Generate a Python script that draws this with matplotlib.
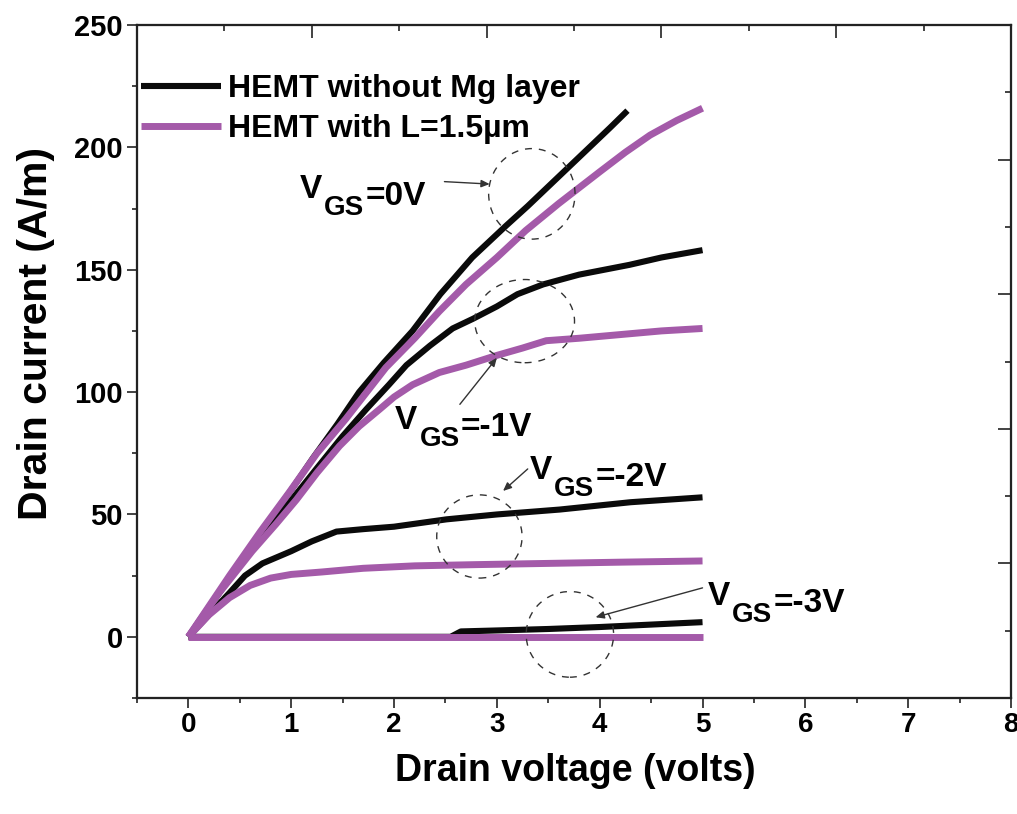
import matplotlib
matplotlib.use("Agg")
import matplotlib.pyplot as plt
from matplotlib.patches import Ellipse
from matplotlib.ticker import MultipleLocator

# ---------------- data ----------------
series_labels = ["HEMT without Mg layer", "HEMT with L=1.5\u00b5m"]

# HEMT without Mg layer (black)
v_b0 = [0, 0.3, 0.5, 0.76, 1.0, 1.21, 1.45, 1.66, 1.9, 2.18, 2.45, 2.76, 3.09, 3.3, 3.5, 3.7, 3.9, 4.1, 4.27]
i_b0 = [0, 18, 30, 46, 60, 73, 87, 100, 112, 125, 140, 155, 168, 176, 184, 192, 200, 208, 215]
v_b1 = [0, 0.45, 0.89, 1.27, 1.5, 1.73, 1.95, 2.12, 2.35, 2.57, 2.77, 3.0, 3.2, 3.45, 3.8, 4.29, 4.6, 5.0]
i_b1 = [0, 27, 50, 70, 82, 93, 103, 111, 119, 126, 130, 135, 140, 144, 148, 152, 155, 158]
v_b2 = [0, 0.4, 0.55, 0.72, 1.0, 1.2, 1.44, 1.7, 2.0, 2.51, 3.0, 3.61, 4.3, 5.0]
i_b2 = [0, 18, 25, 30, 35, 39, 43, 44, 45, 48, 50, 52, 55, 57]
v_b3 = [0, 2.55, 2.65, 3.0, 3.5, 4.0, 4.5, 5.0]
i_b3 = [0, 0, 2.2, 2.6, 3.2, 4.0, 5.0, 6.0]

# HEMT with L=1.5um (purple)
v_p0 = [0, 0.4, 0.7, 0.98, 1.25, 1.53, 1.92, 2.2, 2.44, 2.7, 3.0, 3.28, 3.6, 4.0, 4.25, 4.49, 4.75, 5.0]
i_p0 = [0, 25, 43, 59, 75, 89, 110, 122, 133, 144, 155, 166, 177, 190, 198, 205, 211, 216]
v_p1 = [0, 0.3, 0.62, 0.85, 1.05, 1.25, 1.47, 1.66, 1.86, 2.0, 2.18, 2.44, 2.7, 3.0, 3.25, 3.48, 3.8, 4.2, 4.6, 5.0]
i_p1 = [0, 18, 35, 46, 56, 67, 78, 86, 93, 98, 103, 108, 111, 115, 118, 121, 122, 123.5, 125, 126]
v_p2 = [0, 0.2, 0.4, 0.6, 0.8, 1.0, 1.3, 1.7, 2.2, 2.8, 3.5, 4.2, 5.0]
i_p2 = [0, 9, 16, 21, 24, 25.5, 26.5, 28, 29, 29.5, 30, 30.5, 31]
v_p3 = [0, 1, 2, 3, 4, 5]
i_p3 = [0, 0, 0, 0, 0, 0]

vgs_labels = ["=0V", "=-1V", "=-2V", "=-3V"]

x_ticks = [0, 1, 2, 3, 4, 5, 6, 7, 8]
y_ticks = [0, 50, 100, 150, 200, 250]

# ---------------- style ----------------
plt.rcParams["font.family"] = ["Liberation Sans", "DejaVu Sans"]
plt.rcParams["font.weight"] = "bold"

BLACK = "#0a0a0a"
PURPLE = "#A45AA9"
AX_COL = "#222222"

fig = plt.figure(figsize=(10.17, 8.14), dpi=100)
ax = fig.add_axes([137 / 1017, 1 - 698 / 814, (1011 - 137) / 1017, (698 - 25) / 814])

kw_b = dict(color=BLACK, lw=4.4, solid_capstyle="butt", solid_joinstyle="round", zorder=3)
kw_p = dict(color=PURPLE, lw=5.0, solid_capstyle="butt", solid_joinstyle="round", zorder=4)
ax.plot(v_b0, i_b0, label=series_labels[0], **kw_b)
ax.plot(v_b1, i_b1, **kw_b)
ax.plot(v_b2, i_b2, **kw_b)
ax.plot(v_b3, i_b3, **kw_b)
ax.plot(v_p0, i_p0, label=series_labels[1], **kw_p)
ax.plot(v_p1, i_p1, **kw_p)
ax.plot(v_p2, i_p2, **kw_p)
ax.plot(v_p3, i_p3, **kw_p)

ax.set_xlim(-0.5, 8)
ax.set_ylim(-25, 250)
ax.set_xticks(x_ticks)
ax.set_yticks(y_ticks)
ax.xaxis.set_minor_locator(MultipleLocator(0.5))
ax.yaxis.set_minor_locator(MultipleLocator(25))
ax.tick_params(which="major", direction="out", length=7.2, width=1.2, color=AX_COL,
               labelsize=20, pad=3)
ax.tick_params(axis="y", which="major", labelsize=21)
ax.tick_params(which="minor", direction="out", length=3.6, width=1.2, color=AX_COL)
for lab in ax.get_xticklabels() + ax.get_yticklabels():
    lab.set_fontweight("bold")
for sp in ax.spines.values():
    sp.set_linewidth(1.5)
    sp.set_color(AX_COL)

ax.set_xlabel("Drain voltage (volts)", fontsize=27, fontweight="bold")
ax.set_ylabel("Drain current (A/m)", fontsize=29.5, fontweight="bold")
ax.xaxis.set_label_coords(0.501, -0.082)
ax.yaxis.set_label_coords(-0.094, 0.542)

# top and right frame axes (inward ticks, no labels)
axt = ax.twiny()
axt.set_xlim(0, 5)
axt.xaxis.set_major_locator(MultipleLocator(1))
axt.xaxis.set_minor_locator(MultipleLocator(0.5))
axt.tick_params(axis="x", which="major", direction="in", length=9.4, width=1.2, color=AX_COL,
                labeltop=False, labelbottom=False, bottom=False)
axt.tick_params(axis="x", which="minor", direction="in", length=4, width=1.2, color=AX_COL,
                bottom=False)
axr = ax.twinx()
axr.set_ylim(0, 5)
axr.yaxis.set_major_locator(MultipleLocator(1))
axr.yaxis.set_minor_locator(MultipleLocator(0.5))
axr.tick_params(axis="y", which="major", direction="in", length=9.4, width=1.2, color=AX_COL,
                labelright=False, labelleft=False, left=False)
axr.tick_params(axis="y", which="minor", direction="in", length=4, width=1.2, color=AX_COL,
                left=False)
for a in (axt, axr):
    for sp in a.spines.values():
        sp.set_linewidth(1.5)
        sp.set_color(AX_COL)

# legend
leg = ax.legend(loc="upper left", bbox_to_anchor=(0.005, 0.927), frameon=False,
                fontsize=23, handlelength=2.5, handletextpad=0.2, labelspacing=0.3,
                borderaxespad=0, borderpad=0)
for t in leg.get_texts():
    t.set_fontweight("bold")

# annotations
def vgs_label(x, y, rest):
    tv = ax.text(x, y, "V", fontsize=24, fontweight="bold", va="baseline", ha="left", zorder=6)
    tg = ax.annotate("GS", xy=(1, 0), xycoords=tv, xytext=(1.5, -7), textcoords="offset points",
                     fontsize=20, fontweight="bold", va="baseline", ha="left", zorder=6)
    ax.annotate(rest, xy=(1, 0), xycoords=(tg, tv), xytext=(1, 0), textcoords="offset points",
                fontsize=24, fontweight="bold", va="baseline", ha="left", zorder=6)

vgs_label(1.08, 179.3, vgs_labels[0])
vgs_label(2.01, 85, vgs_labels[1])
vgs_label(3.32, 64.5, vgs_labels[2])
vgs_label(5.05, 13, vgs_labels[3])

arrow_kw = dict(arrowstyle="-|>,head_length=0.5,head_width=0.22", color="#333333", lw=1.0,
                shrinkA=0, shrinkB=0)
ax.annotate("", xy=(2.93, 185), xytext=(2.49, 186), arrowprops=arrow_kw, zorder=6)
ax.annotate("", xy=(3.0, 114), xytext=(2.64, 95), arrowprops=arrow_kw, zorder=6)
ax.annotate("", xy=(3.06, 59.6), xytext=(3.3, 68.6), arrowprops=arrow_kw, zorder=6)
ax.annotate("", xy=(3.96, 8), xytext=(5.0, 20), arrowprops=arrow_kw, zorder=6)

for (cx, cy, w, h) in [(3.34, 181, 0.84, 37), (3.27, 129, 0.97, 34),
                       (2.83, 41, 0.83, 34), (3.71, 1, 0.85, 35)]:
    ax.add_patch(Ellipse((cx, cy), w, h, fill=False, ls=(0, (5, 5)), lw=1.0,
                         ec="#333333", zorder=5))

fig.savefig("out.png", dpi=100)
